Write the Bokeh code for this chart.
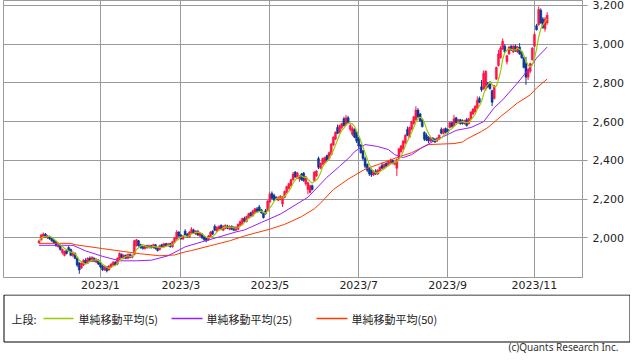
import numpy as np
import pandas as pd
from bokeh.plotting import figure
from bokeh.models import Range1d, FixedTicker, NumeralTickFormatter, ColumnDataSource
from bokeh.layouts import column
from bokeh.embed import file_html
from bokeh.resources import INLINE
from bokeh.core.properties import value

# ---------------- data (daily candles, trading-day index 0..240) ----------------
opens = [
    1975, 1990, 2005, 2020, 2000, 2005, 2000, 1990, 1980, 1955,
    1960, 1925, 1910, 1935, 1950, 1940, 1910, 1920, 1895, 1870,
    1845, 1860, 1885, 1870, 1895, 1880, 1895, 1875, 1885, 1870,
    1855, 1835, 1850, 1835, 1850, 1860, 1875, 1865, 1890, 1915,
    1895, 1910, 1895, 1915, 1900, 1915, 1960, 1985, 1965, 1955,
    1945, 1960, 1950, 1960, 1950, 1965, 1950, 1940, 1965, 1955,
    1970, 1960, 1970, 1955, 1980, 1995, 2030, 2015, 1995, 2035,
    2020, 2005, 2025, 2040, 2020, 2035, 2010, 2020, 2005, 2000,
    1990, 2005, 2035, 2060, 2035, 2045, 2065, 2040, 2050, 2060,
    2045, 2060, 2055, 2040, 2045, 2065, 2070, 2100, 2085, 2105,
    2130, 2115, 2130, 2150, 2160, 2145, 2130, 2140, 2140, 2185,
    2230, 2220, 2210, 2195, 2200, 2175, 2210, 2235, 2255, 2270,
    2300, 2340, 2310, 2305, 2330, 2335, 2280, 2250, 2235, 2270,
    2295, 2320, 2410, 2360, 2380, 2390, 2425, 2410, 2430, 2480,
    2510, 2570, 2545, 2570, 2615, 2585, 2620, 2560, 2535, 2560,
    2545, 2515, 2480, 2450, 2410, 2380, 2360, 2350, 2325, 2345,
    2330, 2345, 2375, 2360, 2385, 2375, 2385, 2400, 2380, 2360,
    2410, 2445, 2460, 2490, 2560, 2520, 2560, 2590, 2610, 2660,
    2640, 2610, 2545, 2530, 2520, 2500, 2515, 2510, 2500, 2510,
    2560, 2540, 2565, 2560, 2570, 2595, 2580, 2620, 2595, 2610,
    2605, 2590, 2610, 2590, 2615, 2640, 2650, 2670, 2720, 2780,
    2770, 2770, 2800, 2795, 2760, 2720, 2820, 2890, 2930, 2975,
    2990, 2910, 2950, 2990, 2960, 2990, 2960, 2985, 2960, 2930,
    2900, 2830, 2860, 2920, 2990, 3095, 3100, 3175, 3130, 3080,
    3110,
]
highs = [
    1990, 2020, 2028, 2025, 2015, 2012, 2005, 1995, 1985, 1972,
    1965, 1945, 1935, 1940, 1958, 1945, 1930, 1925, 1900, 1875,
    1875, 1890, 1895, 1900, 1905, 1905, 1900, 1895, 1890, 1875,
    1860, 1855, 1855, 1860, 1870, 1880, 1880, 1900, 1925, 1920,
    1915, 1915, 1920, 1920, 1915, 1990, 1995, 1990, 1970, 1960,
    1965, 1965, 1965, 1965, 1970, 1968, 1955, 1965, 1970, 1975,
    1975, 1975, 1975, 1985, 2005, 2040, 2035, 2020, 2015, 2045,
    2025, 2035, 2055, 2048, 2040, 2040, 2030, 2025, 2010, 2005,
    2015, 2035, 2040, 2070, 2060, 2065, 2070, 2065, 2070, 2068,
    2065, 2065, 2060, 2060, 2075, 2090, 2105, 2110, 2115, 2130,
    2135, 2145, 2155, 2160, 2170, 2150, 2135, 2150, 2195, 2235,
    2240, 2228, 2215, 2215, 2220, 2215, 2245, 2270, 2285, 2305,
    2340, 2345, 2340, 2325, 2335, 2340, 2320, 2290, 2275, 2275,
    2345, 2350, 2420, 2390, 2415, 2420, 2430, 2445, 2490, 2525,
    2550, 2585, 2585, 2595, 2625, 2635, 2630, 2590, 2575, 2565,
    2550, 2520, 2485, 2455, 2420, 2385, 2365, 2355, 2350, 2355,
    2355, 2370, 2390, 2385, 2390, 2400, 2410, 2405, 2395, 2410,
    2465, 2480, 2505, 2535, 2575, 2575, 2605, 2630, 2680, 2670,
    2645, 2615, 2550, 2540, 2525, 2520, 2520, 2515, 2520, 2535,
    2570, 2565, 2570, 2565, 2600, 2600, 2635, 2625, 2615, 2615,
    2612, 2610, 2620, 2620, 2655, 2670, 2685, 2730, 2730, 2815,
    2865, 2865, 2805, 2810, 2765, 2790, 2885, 2970, 2990, 3030,
    3000, 2945, 2990, 2995, 2995, 2998, 2990, 3005, 2965, 2935,
    2935, 2875, 2905, 2985, 3060, 3105, 3195, 3185, 3140, 3140,
    3165,
]
lows = [
    1970, 1985, 2000, 2000, 1995, 1990, 1980, 1970, 1955, 1950,
    1935, 1915, 1905, 1915, 1930, 1905, 1900, 1890, 1850, 1815,
    1840, 1855, 1865, 1865, 1875, 1875, 1875, 1870, 1860, 1845,
    1830, 1830, 1822, 1830, 1845, 1855, 1855, 1860, 1885, 1895,
    1890, 1890, 1890, 1895, 1895, 1910, 1955, 1955, 1945, 1940,
    1940, 1945, 1945, 1945, 1945, 1940, 1930, 1935, 1950, 1950,
    1955, 1955, 1950, 1950, 1975, 1990, 2005, 1990, 1990, 2010,
    2000, 2000, 2020, 2020, 2015, 2010, 2005, 1995, 1985, 1978,
    1985, 2000, 2015, 2035, 2030, 2040, 2040, 2035, 2045, 2045,
    2040, 2040, 2035, 2035, 2040, 2060, 2065, 2080, 2080, 2100,
    2110, 2110, 2125, 2130, 2135, 2125, 2100, 2120, 2135, 2180,
    2200, 2190, 2195, 2190, 2195, 2160, 2205, 2230, 2250, 2265,
    2295, 2310, 2305, 2290, 2295, 2290, 2270, 2225, 2230, 2245,
    2290, 2315, 2355, 2355, 2375, 2385, 2395, 2405, 2425, 2475,
    2505, 2535, 2540, 2560, 2575, 2580, 2590, 2550, 2525, 2515,
    2490, 2465, 2435, 2400, 2360, 2340, 2320, 2315, 2320, 2325,
    2325, 2340, 2355, 2355, 2365, 2370, 2380, 2380, 2375, 2320,
    2405, 2440, 2455, 2485, 2525, 2515, 2555, 2585, 2605, 2620,
    2600, 2570, 2500, 2500, 2490, 2495, 2495, 2490, 2495, 2505,
    2535, 2535, 2540, 2540, 2565, 2570, 2575, 2590, 2590, 2585,
    2585, 2585, 2575, 2585, 2610, 2635, 2645, 2665, 2695, 2755,
    2765, 2760, 2775, 2765, 2680, 2715, 2815, 2885, 2925, 2970,
    2955, 2895, 2945, 2965, 2955, 2960, 2955, 2945, 2925, 2875,
    2790, 2815, 2850, 2915, 2985, 3070, 3095, 3105, 3080, 3065,
    3100,
]
closes = [
    1985, 2015, 2020, 2005, 2010, 1995, 1985, 1975, 1960, 1965,
    1940, 1940, 1930, 1920, 1935, 1910, 1925, 1895, 1860, 1835,
    1870, 1885, 1870, 1895, 1880, 1900, 1880, 1890, 1865, 1850,
    1835, 1850, 1830, 1855, 1865, 1875, 1860, 1895, 1920, 1900,
    1910, 1895, 1915, 1900, 1910, 1985, 1990, 1960, 1950, 1945,
    1960, 1950, 1960, 1950, 1965, 1945, 1935, 1960, 1955, 1970,
    1960, 1970, 1955, 1980, 2000, 2030, 2010, 1995, 2010, 2015,
    2005, 2030, 2045, 2025, 2035, 2015, 2025, 2000, 1990, 1985,
    2010, 2030, 2020, 2040, 2055, 2060, 2045, 2060, 2065, 2050,
    2060, 2045, 2040, 2055, 2070, 2085, 2100, 2085, 2110, 2125,
    2115, 2140, 2150, 2135, 2140, 2130, 2105, 2125, 2190, 2225,
    2205, 2195, 2200, 2210, 2215, 2210, 2240, 2265, 2280, 2300,
    2330, 2315, 2335, 2320, 2300, 2295, 2315, 2285, 2270, 2250,
    2340, 2345, 2365, 2385, 2410, 2415, 2400, 2440, 2485, 2520,
    2545, 2540, 2580, 2590, 2580, 2620, 2595, 2580, 2565, 2520,
    2500, 2475, 2440, 2410, 2370, 2350, 2330, 2325, 2345, 2330,
    2350, 2365, 2360, 2380, 2370, 2395, 2400, 2385, 2390, 2405,
    2460, 2475, 2500, 2530, 2530, 2570, 2600, 2625, 2660, 2625,
    2605, 2575, 2510, 2505, 2500, 2515, 2500, 2495, 2515, 2530,
    2540, 2560, 2545, 2545, 2595, 2575, 2615, 2595, 2610, 2590,
    2590, 2605, 2580, 2615, 2650, 2665, 2680, 2710, 2700, 2765,
    2850, 2860, 2780, 2770, 2700, 2785, 2880, 2950, 2980, 3015,
    2960, 2940, 2985, 2970, 2990, 2965, 2985, 2950, 2930, 2880,
    2830, 2870, 2900, 2980, 3050, 3075, 3180, 3110, 3085, 3130,
    3150,
]

# moving averages (index, value)
ma25_idx = [0, 16, 22, 30, 38, 46, 53, 61, 69, 77, 85, 93, 97, 105, 114, 127,
            136, 142, 147, 149, 154, 160, 165, 168, 172, 176, 181, 186, 191,
            197, 204, 210, 215, 219, 226, 231, 235, 240]
ma25_val = [1962, 1962, 1933, 1905, 1882, 1882, 1885, 1908, 1954, 1980, 2005,
            2031, 2041, 2080, 2123, 2210, 2313, 2370, 2420, 2445, 2482, 2472,
            2456, 2430, 2415, 2430, 2467, 2497, 2523, 2555, 2570, 2600, 2672,
            2713, 2800, 2867, 2928, 2985]
ma50_idx = [0, 15, 17, 30, 40, 48, 57, 64, 69, 72, 81, 90, 97, 102, 109, 116,
            124, 130, 133, 139, 146, 154, 163, 169, 176, 181, 184, 196, 200,
            202, 209, 212, 218, 226, 232, 235, 240]
ma50_val = [1972, 1972, 1965, 1945, 1930, 1918, 1908, 1912, 1928, 1935, 1960,
            1985, 2010, 2025, 2045, 2070, 2110, 2150, 2180, 2250, 2303, 2355,
            2390, 2415, 2440, 2467, 2482, 2487, 2495, 2510, 2550, 2570, 2626,
            2697, 2738, 2774, 2820]

month_tick_idx = [29, 67, 109, 151, 193, 234]
month_labels = ["2023/1", "2023/3", "2023/5", "2023/7", "2023/9", "2023/11"]
price_ticks = [2000, 2200, 2400, 2600, 2800, 3000, 3200]

legend_title = "上段:"
legend_labels = ["単純移動平均(5)", "単純移動平均(25)", "単純移動平均(50)"]
credit = "(c)Quants Research Inc."

# ---------------- styling ----------------
UP = "#ff1446"
DOWN = "#0c3796"
C_MA5 = "#99cc00"
C_MA25 = "#9a1cff"
C_MA50 = "#ff3a00"
GRID = "#9a9a9a"
TXT = "#222222"
AXFONT = "DejaVu Sans"

W = 630
MAIN_H = 294
LEG_H = 60


def no_align(fig):
    try:
        fig.frame_align = False
    except Exception:
        pass


o = np.array(opens, dtype=float)
h = np.array(highs, dtype=float)
l = np.array(lows, dtype=float)
c = np.array(closes, dtype=float)
idx = np.arange(len(c))
ma5 = pd.Series(c).rolling(5, min_periods=1).mean().to_numpy()

src = ColumnDataSource(dict(
    x=idx, h=h, l=l,
    top=np.maximum(o, c), bottom=np.minimum(o, c),
    color=np.where(c >= o, UP, DOWN),
))

p = figure(width=W, height=MAIN_H, output_backend="svg", toolbar_location=None,
           x_range=Range1d(-16.8, 256.7), y_range=Range1d(1795.8, 3225.5),
           y_axis_location="right",
           min_border_left=3, min_border_top=0, min_border_right=48,
           min_border_bottom=14)
no_align(p)
p.background_fill_color = "white"
p.border_fill_color = "white"
p.outline_line_color = GRID
p.outline_line_width = 1

p.xaxis.ticker = FixedTicker(ticks=month_tick_idx)
p.xaxis.major_label_overrides = {t: s for t, s in zip(month_tick_idx, month_labels)}
p.xaxis.axis_line_color = None
p.xaxis.major_tick_line_color = None
p.xaxis.major_tick_out = 0
p.xaxis.major_tick_in = 0
p.xaxis.minor_tick_line_color = None
p.xaxis.minor_tick_out = 0
p.xaxis.major_label_standoff = 1
p.xaxis.axis_label_standoff = 0
p.xaxis.major_label_text_font = AXFONT
p.xaxis.major_label_text_font_size = "11px"
p.xaxis.major_label_text_color = TXT

p.yaxis.ticker = FixedTicker(ticks=price_ticks)
p.yaxis.formatter = NumeralTickFormatter(format="0,0")
p.yaxis.axis_line_color = GRID
p.yaxis.major_tick_line_color = GRID
p.yaxis.major_tick_out = 5
p.yaxis.major_tick_in = 0
p.yaxis.minor_tick_line_color = None
p.yaxis.minor_tick_out = 0
p.yaxis.major_label_standoff = 5
p.yaxis.axis_label_standoff = 0
p.yaxis.major_label_text_font = AXFONT
p.yaxis.major_label_text_font_size = "11px"
p.yaxis.major_label_text_color = TXT

p.xgrid.grid_line_color = GRID
p.ygrid.grid_line_color = GRID
p.xgrid.grid_line_width = 1
p.ygrid.grid_line_width = 1

p.segment(x0="x", y0="l", x1="x", y1="h", line_color="color", line_width=1, source=src)
p.vbar(x="x", width=0.95, top="top", bottom="bottom", fill_color="color",
       line_color="color", line_width=0.5, source=src)

p.line(ma50_idx, ma50_val, line_color=C_MA50, line_width=1)
p.line(ma25_idx, ma25_val, line_color=C_MA25, line_width=1)
p.line(idx, ma5, line_color=C_MA5, line_width=1.2)

# ---------------- legend panel (coordinates = pixels of the panel) ----------------
q = figure(width=W, height=LEG_H, output_backend="svg", toolbar_location=None,
           x_range=Range1d(0, W), y_range=Range1d(LEG_H, 0),
           x_axis_type=None, y_axis_type=None, min_border=0,
           min_border_left=0, min_border_right=0, min_border_top=0, min_border_bottom=0)
no_align(q)
q.outline_line_color = None
q.background_fill_color = "white"
q.border_fill_color = "white"

q.quad(left=[3.5], right=[W - 0.5], top=[0.5], bottom=[47.5],
       fill_color=None, line_color="black", line_width=1)
q.segment(x0=[43, 171, 316], y0=[24, 24, 24], x1=[73, 202, 347], y1=[24, 24, 24],
          line_color=[C_MA5, C_MA25, C_MA50], line_width=1.5)
q.text(x=[11, 78, 206, 351], y=[24, 24, 24, 24],
       text=[legend_title] + legend_labels,
       text_font=value("Noto Sans CJK JP"), text_font_size="11px",
       text_baseline="middle", text_align="left", text_color=TXT)
q.text(x=[618], y=[52.5], text=[credit], text_font=value("Noto Sans"),
       text_font_size="10px", text_baseline="middle", text_align="right",
       text_color="#333333")

layout = column(p, q, spacing=0)
open("out.html", "w").write(file_html(layout, INLINE))
